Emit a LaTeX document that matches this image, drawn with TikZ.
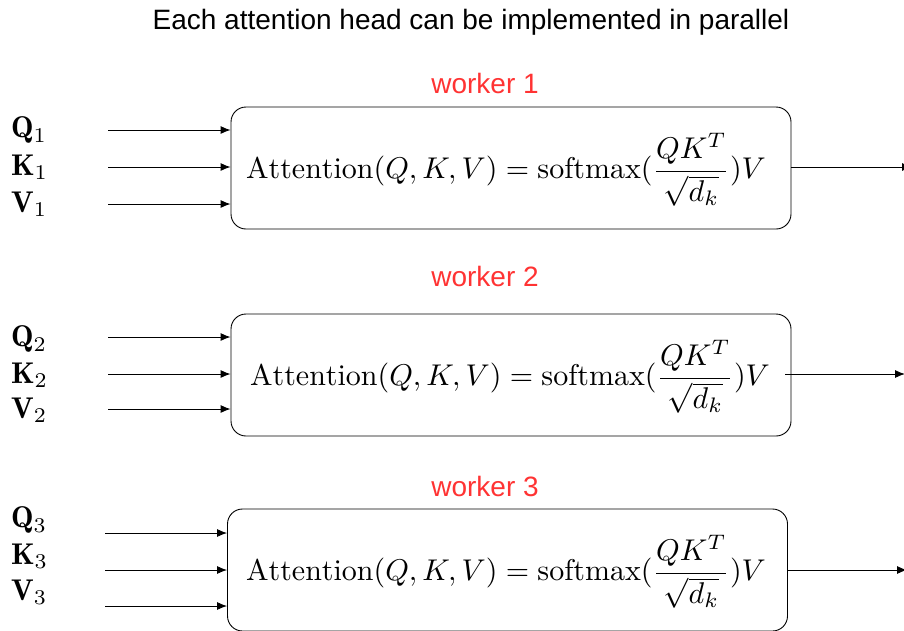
\documentclass[tikz,border=0pt]{standalone}
\usepackage{amsmath}
\usepackage{graphicx}
\usepackage{fontspec}
\newfontfamily\titlefont{Liberation Sans}
\definecolor{workerred}{HTML}{FF3333}
\usetikzlibrary{arrows.meta}
\newcommand{\attnformula}{\scalebox{3.0}{$\mathrm{Attention}(Q,K,V)=\mathrm{softmax}(\dfrac{QK^T}{\sqrt{d_k}})V$}}
\newcommand{\biglab}[1]{\scalebox{3.0}{$#1$}}
\begin{document}
\begin{tikzpicture}[x=1pt,y=-1pt,
  headbox/.style={draw, rounded corners=15pt, line width=0.9pt, minimum width=560pt, minimum height=122pt, inner sep=0pt},
  formula/.style={inner sep=0pt},
  lab/.style={anchor=west, inner sep=0pt},
  wlab/.style={text=workerred, font=\titlefont\fontsize{28}{32}\selectfont},
  arr/.style={-{Latex[length=10pt,width=8pt]}, line width=0.9pt}]
\useasboundingbox (0,0) rectangle (904,630);
\node[font=\titlefont\fontsize{28}{32}\selectfont] (title) at (471,22) {Each attention head can be implemented in parallel};

\node[wlab] (w1) at (485,83) {worker 1};
\node[wlab] (w2) at (485,276) {worker 2};
\node[wlab] (w3) at (485,486) {worker 3};

\node[headbox] (b1) at (511,168) {};
\node[headbox] (b2) at (511,375) {};
\node[headbox] (b3) at (507.5,570) {};
\node[formula] (f1) at (506,170) {\attnformula};
\node[formula] (f2) at (510,377) {\attnformula};
\node[formula] (f3) at (506,572) {\attnformula};

\node[lab] (q1) at (11,130) {\biglab{\mathbf{Q}_1}};
\node[lab] (k1) at (11,167) {\biglab{\mathbf{K}_1}};
\node[lab] (v1) at (11,204) {\biglab{\mathbf{V}_1}};
\node[lab] (q2) at (11,339) {\biglab{\mathbf{Q}_2}};
\node[lab] (k2) at (11,375) {\biglab{\mathbf{K}_2}};
\node[lab] (v2) at (11,410) {\biglab{\mathbf{V}_2}};
\node[lab] (q3) at (11,520) {\biglab{\mathbf{Q}_3}};
\node[lab] (k3) at (11,556) {\biglab{\mathbf{K}_3}};
\node[lab] (v3) at (11,592) {\biglab{\mathbf{V}_3}};

\coordinate (s1a) at (108,130); \coordinate (s1b) at (108,167); \coordinate (s1c) at (108,204);
\coordinate (s2a) at (108,337); \coordinate (s2b) at (108,374); \coordinate (s2c) at (108,409);
\coordinate (s3a) at (105,533); \coordinate (s3b) at (105,570); \coordinate (s3c) at (105,606);
\draw[arr] (s1a) -- (s1a -| b1.west);
\draw[arr] (s1b) -- (s1b -| b1.west);
\draw[arr] (s1c) -- (s1c -| b1.west);
\draw[arr] (s2a) -- (s2a -| b2.west);
\draw[arr] (s2b) -- (s2b -| b2.west);
\draw[arr] (s2c) -- (s2c -| b2.west);
\draw[arr] (s3a) -- (s3a -| b3.west);
\draw[arr] (s3b) -- (s3b -| b3.west);
\draw[arr] (s3c) -- (s3c -| b3.west);

\coordinate (o1) at (912,167);
\coordinate (o2) at (905,374);
\coordinate (o3) at (907,570);
\draw[arr] (b1.east |- o1) -- (o1);
\draw[arr] (785,374) -- (o2);
\draw[arr] (b3.east |- o3) -- (o3);
\end{tikzpicture}
\end{document}
